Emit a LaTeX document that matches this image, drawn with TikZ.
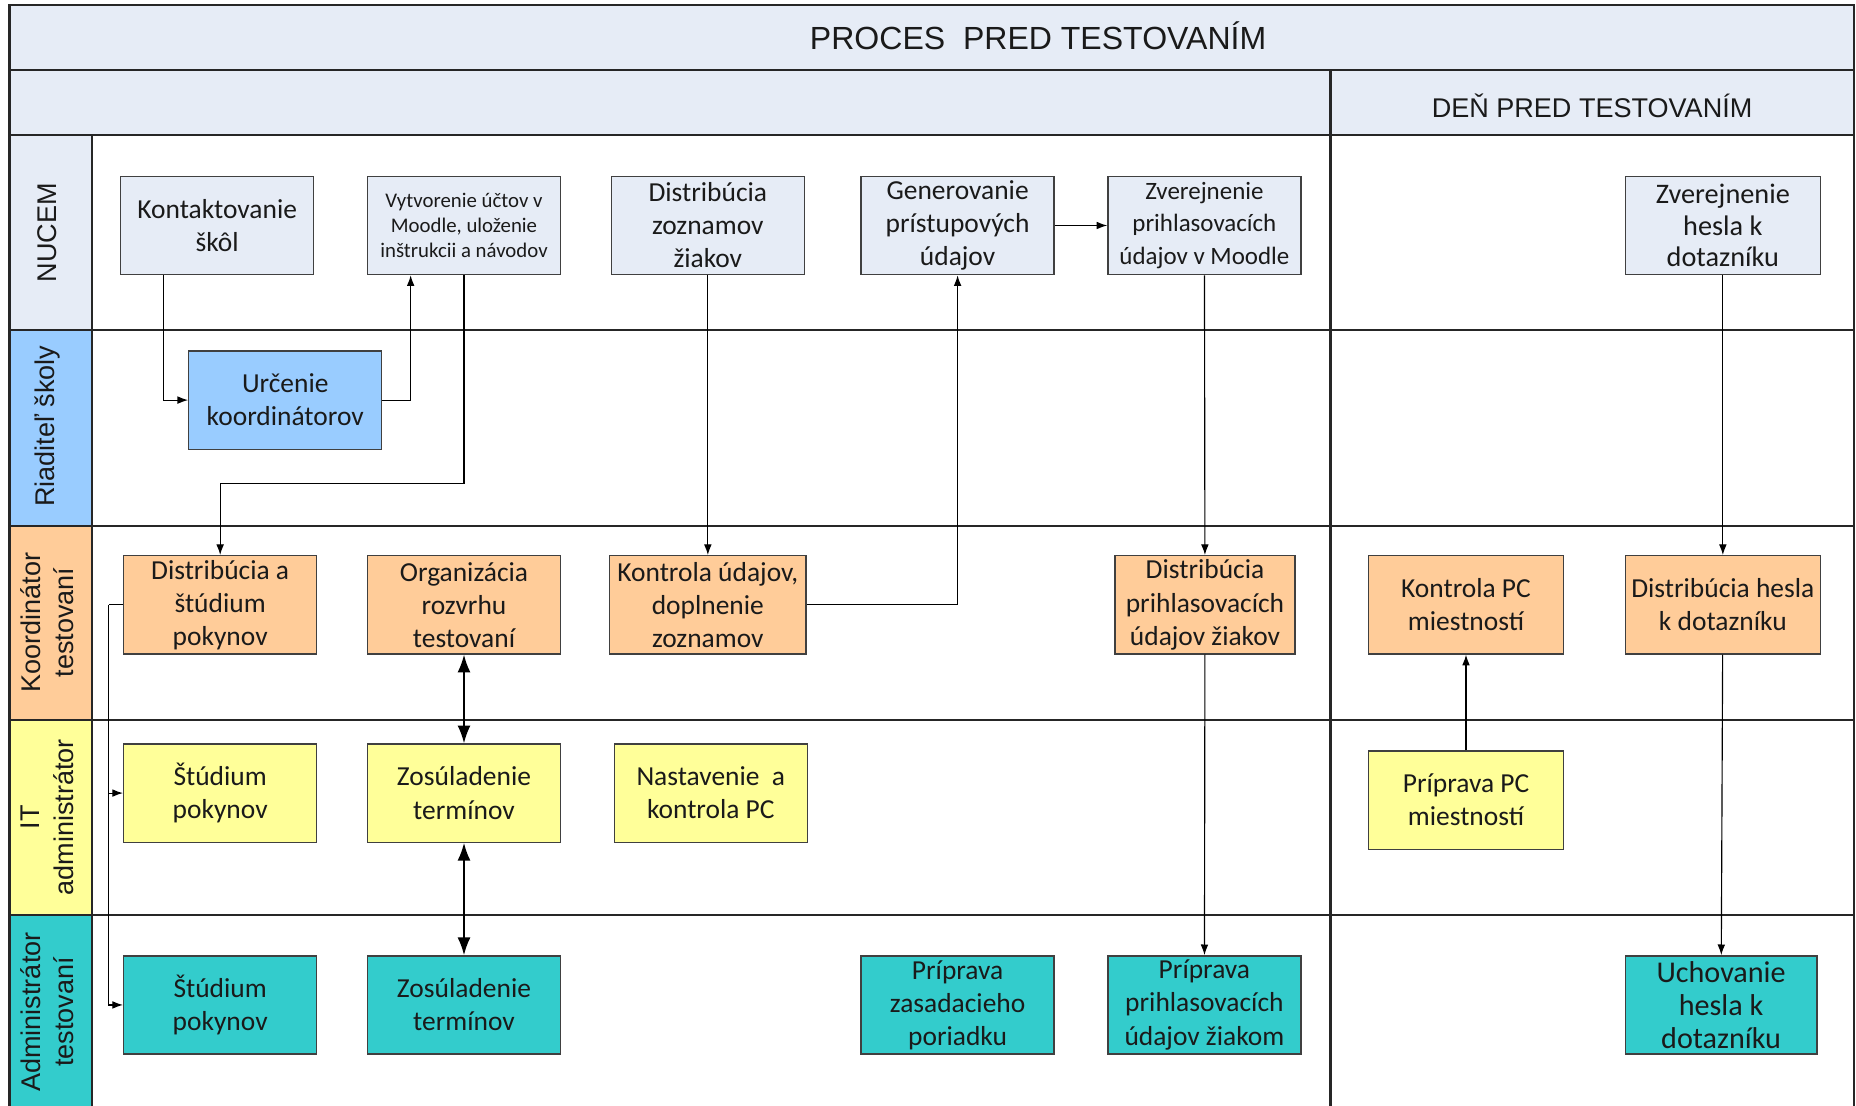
\documentclass[tikz,border=0pt]{standalone}
\usepackage{fontspec}
\setmainfont{Carlito}
\newfontfamily\arialfont{Liberation Sans}
\usetikzlibrary{arrows.meta, positioning}

\definecolor{bandblue}{HTML}{E6ECF6}
\definecolor{riadblue}{HTML}{99CCFF}
\definecolor{koordorange}{HTML}{FFCC99}
\definecolor{ityellow}{HTML}{FFFF99}
\definecolor{admincyan}{HTML}{33CCCC}
\definecolor{textgray}{HTML}{1A1A1A}

\begin{document}
\begin{tikzpicture}[
    box/.style={draw=black!75, line width=0.65pt, minimum width=3.26cm, minimum height=1.66cm,
                inner sep=1pt, align=center, text=textgray,
                font=\fontsize{13.2}{15.9}\selectfont, fill=#1},
    lane/.style={draw=black!85, line width=1pt},
    lanelabel/.style={rotate=90, align=center, text=textgray,
                      font=\arialfont\fontsize{13}{15.9}\selectfont},
    arr/.style={-{Latex[length=1.8mm, width=1.3mm]}, line width=0.55pt},
    dbl/.style={{Latex[length=3mm, width=2.2mm]}-{Latex[length=3mm, width=2.2mm]}, line width=0.8pt}
  ]
  \useasboundingbox (0,0) rectangle (31.36,-18.68);

  % Bands and lane label column
  \fill[bandblue] (0.16,-0.08) rectangle (31.32,-2.28);
  \fill[bandblue] (0.16,-2.28) rectangle (1.56,-5.58);
  \fill[riadblue] (0.16,-5.58) rectangle (1.56,-8.88);
  \fill[koordorange] (0.16,-8.88) rectangle (1.56,-12.16);
  \fill[ityellow] (0.16,-12.16) rectangle (1.56,-15.46);
  \fill[admincyan] (0.16,-15.46) rectangle (1.56,-18.9);

  % Grid lines
  \draw[lane] (0.16,-18.9) -- (0.16,-0.08) -- (31.32,-0.08) -- (31.32,-18.9);
  \foreach \y in {-1.18,-2.28,-5.58,-8.88,-12.16,-15.46}
    \draw[lane] (0.16,\y) -- (31.32,\y);
  \draw[lane] (1.56,-2.28) -- (1.56,-18.9);
  \draw[lane] (22.48,-1.18) -- (22.48,-18.9);

  % Headings
  \node[font=\arialfont\fontsize{15.4}{18}\selectfont, text=textgray] (title) at (17.54,-0.6)
    {PROCES~~PRED TESTOVANÍM};
  \node[font=\arialfont\fontsize{13}{15}\selectfont, text=textgray] (dayhead) at (26.9,-1.78)
    {DEŇ PRED TESTOVANÍM};

  % Lane labels
  \node[lanelabel] (lnucem) at (0.8,-3.93) {NUCEM};
  \node[lanelabel] (lriad) at (0.8,-7.2) {Riaditeľ školy};
  \node[lanelabel] (lkoord) at (0.8,-10.52) {Koordinátor\\testovaní};
  \node[lanelabel] (lit) at (0.8,-13.81) {IT\\administrátor};
  \node[lanelabel] (ladmin) at (0.8,-17.1) {Administrátor\\testovaní};

  % NUCEM
  \node[box=bandblue] (kont) at (3.67,-3.81) {Kontaktovanie\\škôl};
  \node[box=bandblue, font=\fontsize{10}{12}\selectfont] (vytv) at (7.84,-3.81)
    {Vytvorenie účtov v\\Moodle, uloženie\\inštrukcii a návodov};
  \node[box=bandblue] (distz) at (11.96,-3.81) {Distribúcia\\zoznamov\\žiakov};
  \node[box=bandblue] (gen) at (16.18,-3.81) {Generovanie\\prístupových\\údajov};
  \node[box=bandblue, font=\fontsize{12}{15.5}\selectfont] (zver) at (20.35,-3.81)
    {Zverejnenie\\prihlasovacích\\údajov v Moodle};
  \node[box=bandblue, minimum width=3.3cm, font=\fontsize{13.6}{15.3}\selectfont] (zverh) at (29.11,-3.81)
    {Zverejnenie\\hesla k\\dotazníku};

  % Riaditel skoly
  \node[box=riadblue] (urc) at (4.82,-6.76) {Určenie\\koordinátorov};

  % Koordinator testovani
  \node[box=koordorange] (dista) at (3.72,-10.22) {Distribúcia a\\štúdium\\pokynov};
  \node[box=koordorange] (org) at (7.84,-10.22) {Organizácia\\rozvrhu\\testovaní};
  \node[box=koordorange, minimum width=3.32cm] (kontr) at (11.96,-10.22) {Kontrola údajov,\\doplnenie\\zoznamov};
  \node[box=koordorange, minimum width=3.04cm] (distp) at (20.36,-10.22) {Distribúcia\\prihlasovacích\\údajov žiakov};
  \node[box=koordorange, minimum width=3.3cm] (kpc) at (24.77,-10.22) {Kontrola PC\\miestností};
  \node[box=koordorange, minimum width=3.3cm] (disth) at (29.11,-10.22) {Distribúcia hesla\\k dotazníku};

  % IT administrator
  \node[box=ityellow] (stit) at (3.72,-13.4) {Štúdium\\pokynov};
  \node[box=ityellow] (zosit) at (7.84,-13.4) {Zosúladenie\\termínov};
  \node[box=ityellow] (nast) at (12.01,-13.4) {Nastavenie~~a\\kontrola PC};
  \node[box=ityellow, minimum width=3.3cm] (ppc) at (24.77,-13.52) {Príprava PC\\miestností};

  % Administrator testovani
  \node[box=admincyan] (stad) at (3.72,-16.98) {Štúdium\\pokynov};
  \node[box=admincyan] (zosad) at (7.84,-16.98) {Zosúladenie\\termínov};
  \node[box=admincyan] (pzas) at (16.18,-16.98) {Príprava\\zasadacieho\\poriadku};
  \node[box=admincyan] (pprih) at (20.35,-16.98) {Príprava\\prihlasovacích\\údajov žiakom};
  \node[box=admincyan, minimum width=3.24cm, font=\fontsize{14.5}{15.9}\selectfont] (uch) at (29.08,-16.98)
    {Uchovanie\\hesla k\\dotazníku};

  % Arrows
  \draw[arr] ([xshift=0.74cm]kont.south west) |- (urc.west);
  \draw[arr] (urc.east) -| ([xshift=0.74cm]vytv.south west);
  \draw[arr] (vytv.south) -- ++(0,-3.52) -| (dista.north);
  \draw[arr] (distz) -- (kontr);
  \draw[arr] (kontr.east) -| (gen.south);
  \draw[arr] (gen) -- (zver);
  \draw[arr] (zver) -- (distp);
  \draw[arr] (distp) -- (pprih);
  \draw[arr] (zverh) -- (disth);
  \draw[arr] (disth) -- (uch);
  \draw[arr] (ppc) -- (kpc);
  \draw[dbl] (org) -- (zosit);
  \draw[dbl] (zosit) -- (zosad);
  \draw (dista.west) -- ++(-0.24,0) coordinate (split);
  \draw[arr] (split) |- (stit.west);
  \draw[arr] (split) |- (stad.west);

\end{tikzpicture}
\end{document}
